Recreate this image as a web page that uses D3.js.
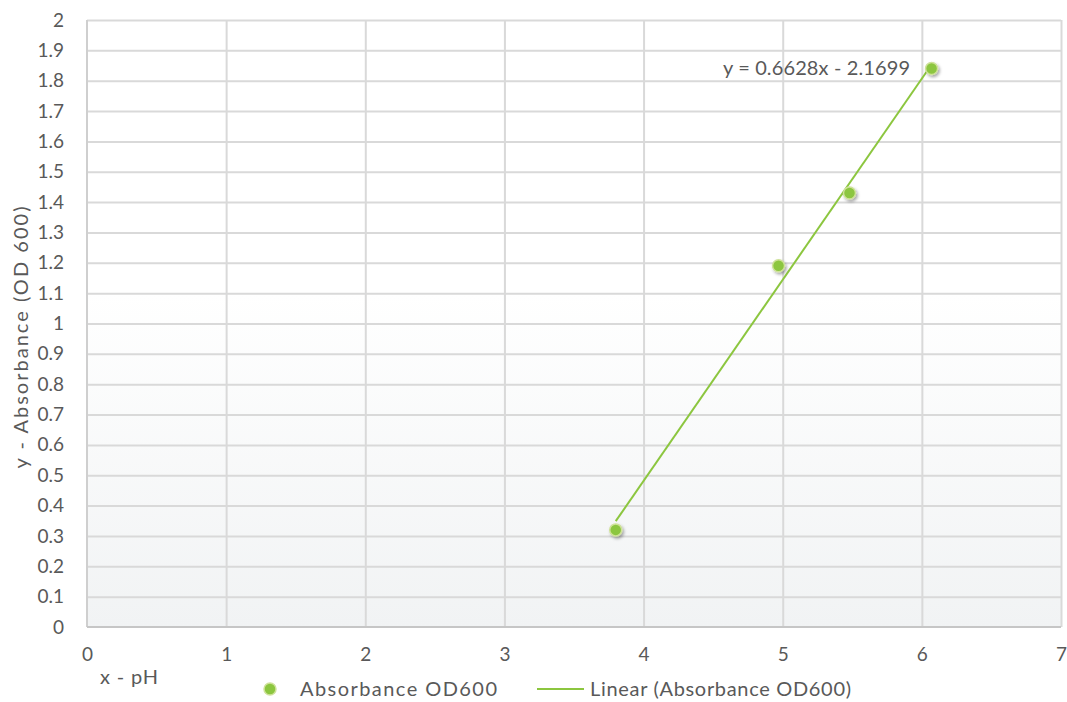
<!DOCTYPE html>
<html>
<head>
<meta charset="utf-8">
<script src="https://cdn.jsdelivr.net/npm/d3@7"></script>
<style>
  html, body { margin: 0; padding: 0; background: #ffffff; }
  svg { display: block; }
  text { font-family: Lato, "Noto Sans", sans-serif; fill: #595959; }
</style>
</head>
<body>
<svg id="chart" width="1067" height="702"></svg>
<script>
// Absorbance (OD600) measured against pH
const phValues = [3.80, 4.97, 5.48, 6.07];
const absorbance = [0.32, 1.19, 1.43, 1.84];

// Linear trendline coefficients shown in the equation label
const slope = 0.6628;
const intercept = -2.1699;

const xTicks = [0, 1, 2, 3, 4, 5, 6, 7];
const yTicks = [0, 0.1, 0.2, 0.3, 0.4, 0.5, 0.6, 0.7, 0.8, 0.9, 1, 1.1, 1.2, 1.3, 1.4, 1.5, 1.6, 1.7, 1.8, 1.9, 2];

const seriesName = "Absorbance OD600";
const trendName = "Linear (Absorbance OD600)";
const xTitle = "x - pH";
const yTitle = "y - Absorbance (OD 600)";

const svg = d3.select("#chart");
const margin = { left: 87, right: 6, top: 20, bottom: 75 };
const W = 1067, H = 702;
const FONT = "Lato, 'Noto Sans', sans-serif";

const x = d3.scaleLinear().domain([0, 7]).range([margin.left, W - margin.right]);
const y = d3.scaleLinear().domain([0, 2]).range([H - margin.bottom, margin.top]);

const green = "#8cc63f";
const fmt = d => (d === 0 ? "0" : d3.format("~g")(d));

// plot background: white fading to a pale grey toward the bottom
const defs = svg.append("defs");
const grad = defs.append("linearGradient").attr("id", "plotBg")
  .attr("x1", 0).attr("y1", 0).attr("x2", 0).attr("y2", 1);
grad.append("stop").attr("offset", "0%").attr("stop-color", "#ffffff");
grad.append("stop").attr("offset", "45%").attr("stop-color", "#ffffff");
grad.append("stop").attr("offset", "100%").attr("stop-color", "#f1f3f4");

const shadow = defs.append("filter").attr("id", "dotShadow")
  .attr("x", "-60%").attr("y", "-60%").attr("width", "220%").attr("height", "220%");
shadow.append("feDropShadow").attr("dx", 1.5).attr("dy", 2).attr("stdDeviation", 1.6)
  .attr("flood-color", "#000").attr("flood-opacity", 0.35);

svg.append("rect")
  .attr("x", x(0)).attr("y", y(2))
  .attr("width", x(7) - x(0)).attr("height", y(0) - y(2))
  .attr("fill", "url(#plotBg)");

// gridlines
svg.append("g")
  .attr("transform", `translate(0,${y(0)})`)
  .call(d3.axisBottom(x).tickValues(xTicks.slice(1)).tickSize(-(y(0) - y(2))).tickFormat(""))
  .call(g => g.select(".domain").remove())
  .call(g => g.selectAll("line").attr("stroke", "#d9d9d9").attr("stroke-width", 2));

svg.append("g")
  .attr("transform", `translate(${x(0)},0)`)
  .call(d3.axisLeft(y).tickValues(yTicks.slice(1)).tickSize(-(x(7) - x(0))).tickFormat(""))
  .call(g => g.select(".domain").remove())
  .call(g => g.selectAll("line").attr("stroke", "#d9d9d9").attr("stroke-width", 2));

// axis lines
svg.append("line").attr("x1", x(0)).attr("x2", x(0)).attr("y1", y(2)).attr("y2", y(0))
  .attr("stroke", "#cfcfcf").attr("stroke-width", 2);
svg.append("line").attr("x1", x(0)).attr("x2", x(7)).attr("y1", y(0)).attr("y2", y(0))
  .attr("stroke", "#c6c6c6").attr("stroke-width", 2);

// tick labels
svg.append("g")
  .attr("transform", `translate(${x(0) - 20},0)`)
  .call(d3.axisLeft(y).tickValues(yTicks).tickSize(0).tickFormat(fmt))
  .call(g => g.select(".domain").remove())
  .call(g => g.selectAll("text").attr("font-size", 19).attr("fill", "#595959")
    .style("font-family", FONT));

svg.append("g")
  .attr("transform", `translate(0,${y(0) + 17})`)
  .call(d3.axisBottom(x).tickValues(xTicks).tickSize(0).tickFormat(fmt))
  .call(g => g.select(".domain").remove())
  .call(g => g.selectAll("text").attr("font-size", 19).attr("fill", "#595959")
    .style("font-family", FONT));

// axis titles
svg.append("text")
  .attr("transform", `translate(28,${(y(0) + y(2)) / 2 + 14}) rotate(-90)`)
  .attr("text-anchor", "middle").attr("font-size", 20)
  .attr("textLength", 262).attr("lengthAdjust", "spacing")
  .text(yTitle);

svg.append("text")
  .attr("x", 100).attr("y", 684)
  .attr("font-size", 20)
  .attr("textLength", 58).attr("lengthAdjust", "spacing")
  .text(xTitle);

// trendline over the range of the measured pH values
const [xmin, xmax] = d3.extent(phValues);
svg.append("line")
  .attr("x1", x(xmin)).attr("y1", y(slope * xmin + intercept))
  .attr("x2", x(xmax)).attr("y2", y(slope * xmax + intercept))
  .attr("stroke", green).attr("stroke-width", 2);

// data points
svg.append("g").selectAll("circle")
  .data(phValues.map((p, i) => ({ p, a: absorbance[i] })))
  .join("circle")
  .attr("cx", d => x(d.p)).attr("cy", d => y(d.a))
  .attr("r", 6)
  .attr("fill", green)
  .attr("stroke", "#cfe29a").attr("stroke-width", 1.5)
  .attr("filter", "url(#dotShadow)");

// equation label
svg.append("text")
  .attr("x", 723).attr("y", 75)
  .attr("font-size", 20)
  .attr("textLength", 187).attr("lengthAdjust", "spacing")
  .text(`y = ${slope}x - ${Math.abs(intercept)}`);

// legend
const legY = 689;
svg.append("circle").attr("cx", 270).attr("cy", legY).attr("r", 6)
  .attr("fill", green).attr("stroke", "#cfe29a").attr("stroke-width", 1.5);
svg.append("text").attr("x", 300).attr("y", legY + 7).attr("font-size", 20)
  .attr("textLength", 197).attr("lengthAdjust", "spacing").text(seriesName);
svg.append("line").attr("x1", 537).attr("x2", 584).attr("y1", legY).attr("y2", legY)
  .attr("stroke", green).attr("stroke-width", 2);
svg.append("text").attr("x", 590).attr("y", legY + 7).attr("font-size", 20)
  .attr("textLength", 261).attr("lengthAdjust", "spacing").text(trendName);
</script>
</body>
</html>
